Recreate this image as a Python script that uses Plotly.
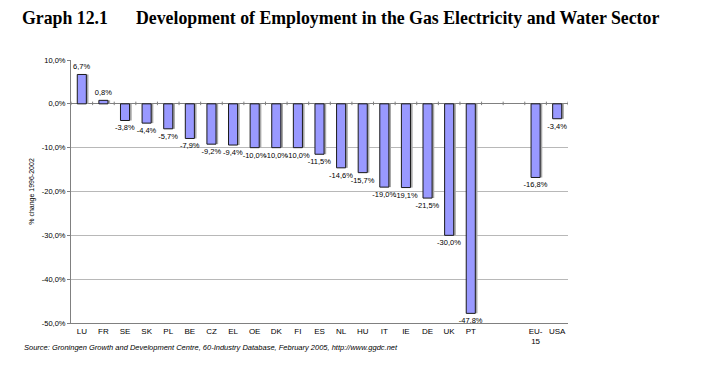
import plotly.graph_objects as go

countries = ["LU", "FR", "SE", "SK", "PL", "BE", "CZ", "EL", "OE", "DK", "FI", "ES",
             "NL", "HU", "IT", "IE", "DE", "UK", "PT", " ", "  ", "EU-<br>15", "USA"]
changes = [6.7, 0.8, -3.8, -4.4, -5.7, -7.9, -9.2, -9.4, -10.0, -10.0, -10.0, -11.5,
           -14.6, -15.7, -19.0, -19.1, -21.5, -30.0, -47.8, None, None, -16.8, -3.4]
labels = [("" if v is None else ("%.1f%%" % v).replace(".", ",")) for v in changes]

ytick_vals = [10, 0, -10, -20, -30, -40, -50]
ytick_text = ["10,0%", "0,0%", "-10,0%", "-20,0%", "-30,0%", "-40,0%", "-50,0%"]

FONT = "Liberation Sans, Arial, sans-serif"
SERIF = "Liberation Serif, Times New Roman, serif"

fig = go.Figure()
# Excel-style shadow behind the bars
fig.add_trace(go.Bar(
    x=countries, y=changes, width=0.42, offset=-0.21 + 0.1,
    marker=dict(color="#A8A8A8", line=dict(width=0)),
    hoverinfo="skip", showlegend=False,
))
fig.add_trace(go.Bar(
    x=countries, y=changes, text=labels, textposition="outside",
    constraintext="none",
    textfont=dict(family=FONT, size=7.5, color="#000000"),
    marker=dict(color="#9999FF", line=dict(color="#1a1a1a", width=1)),
    width=0.42, offset=-0.21, cliponaxis=False, showlegend=False,
))

# small category tick marks on the zero line
shapes = []
for i in range(len(countries) + 1):
    shapes.append(dict(type="line", xref="x", yref="y", x0=i - 0.5, x1=i - 0.5,
                       y0=0.5, y1=-0.3, line=dict(color="#808080", width=1)))

fig.update_layout(
    width=721, height=368,
    margin=dict(l=71, r=153, t=60, b=45, autoexpand=False),
    paper_bgcolor="white", plot_bgcolor="white",
    barmode="overlay",
    shapes=shapes,
    xaxis=dict(type="category", categoryorder="array", categoryarray=countries,
               showline=True, linecolor="#808080", linewidth=1,
               ticks="", showgrid=False, automargin=False,
               tickfont=dict(family=FONT, size=8, color="#000000"),
               range=[-0.5, len(countries) - 0.5]),
    yaxis=dict(range=[-50, 10], tickvals=ytick_vals, ticktext=ytick_text,
               showline=True, linecolor="#808080", linewidth=1,
               ticks="outside", ticklen=3, tickcolor="#808080",
               showgrid=True, gridcolor="#B8B8B8", gridwidth=1,
               zeroline=True, zerolinecolor="#808080", zerolinewidth=1,
               automargin=False,
               tickfont=dict(family=FONT, size=7.5, color="#000000"),
               title=dict(text="% change 1996-2002", standoff=6,
                          font=dict(family=FONT, size=7, color="#000000"))),
    annotations=[
        dict(text="<b>Graph 12.1</b>", xref="paper", yref="paper",
             x=(20 - 71) / 497, y=1 + (60 - 18) / 263, xanchor="left", yanchor="middle",
             showarrow=False, font=dict(family=SERIF, size=17.8, color="#000000")),
        dict(text="<b>Development of Employment in the Gas Electricity and Water Sector</b>",
             xref="paper", yref="paper",
             x=(134 - 71) / 497, y=1 + (60 - 18) / 263, xanchor="left", yanchor="middle",
             showarrow=False, font=dict(family=SERIF, size=17.8, color="#000000")),
        dict(text="<i>Source: Groningen Growth and Development Centre, 60-Industry Database, February 2005, http://www.ggdc.net</i>",
             xref="paper", yref="paper",
             x=(22 - 71) / 497, y=-(347 - 323) / 263, xanchor="left", yanchor="middle",
             showarrow=False, font=dict(family=FONT, size=7.5, color="#000000")),
    ],
)

fig.write_html("out.html", config={"displayModeBar": False},
               post_script="document.body.style.margin='0';document.body.style.overflow='hidden';")
